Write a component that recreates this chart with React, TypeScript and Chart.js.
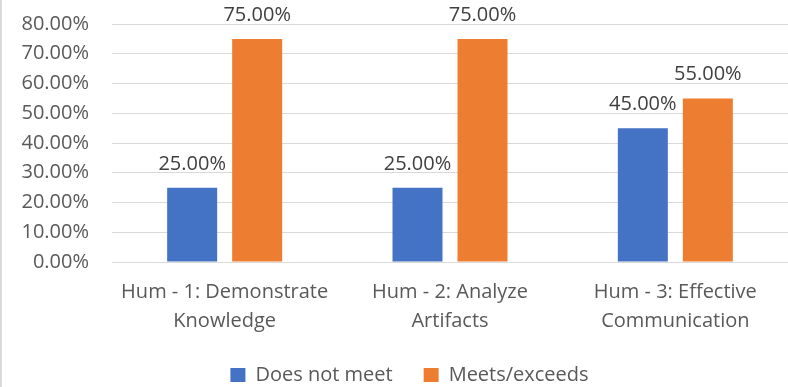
import React, { useEffect, useRef } from "react";
import { Chart, registerables } from "chart.js";

Chart.register(...registerables);

const categories: string[][] = [
  ["Hum - 1: Demonstrate", "Knowledge"],
  ["Hum - 2: Analyze", "Artifacts"],
  ["Hum - 3: Effective", "Communication"],
];
const doesNotMeet: number[] = [25, 25, 45];
const meetsExceeds: number[] = [75, 75, 55];
const seriesNames: string[] = ["Does not meet", "Meets/exceeds"];
const yTicks: number[] = [0, 10, 20, 30, 40, 50, 60, 70, 80];

const FONT = '"Open Sans", "DejaVu Sans", sans-serif';

const dataLabelPlugin = {
  id: "dataLabels",
  afterDatasetsDraw(chart: any) {
    const ctx = chart.ctx;
    ctx.save();
    ctx.font = `20px ${FONT}`;
    ctx.fillStyle = "#404040";
    ctx.textAlign = "center";
    ctx.textBaseline = "alphabetic";
    chart.data.datasets.forEach((ds: any, i: number) => {
      const meta = chart.getDatasetMeta(i);
      meta.data.forEach((el: any, j: number) => {
        const v = ds.data[j] as number;
        ctx.fillText(`${v.toFixed(2)}%`, el.x, el.y - 18);
      });
    });
    ctx.restore();
  },
};

// nudge the legend box so it sits where the reference draws it
const legendPlacePlugin = {
  id: "legendPlace",
  afterLayout(chart: any) {
    const lg = chart.legend;
    if (!lg) return;
    const h = lg.bottom - lg.top;
    lg.top = 334;
    lg.bottom = 334 + h;
    lg.left = 31;
  },
};

export default function App() {
  const ref = useRef<HTMLCanvasElement | null>(null);

  useEffect(() => {
    document.body.style.margin = "0";
    if (!ref.current) return;
    Chart.defaults.font.family = FONT;
    const chart = new Chart(ref.current, {
      type: "bar",
      data: {
        labels: categories,
        datasets: [
          {
            label: seriesNames[0],
            data: doesNotMeet,
            backgroundColor: "#4472C4",
            categoryPercentage: 0.577,
            barPercentage: 0.769,
          },
          {
            label: seriesNames[1],
            data: meetsExceeds,
            backgroundColor: "#ED7D31",
            categoryPercentage: 0.577,
            barPercentage: 0.769,
          },
        ],
      },
      options: {
        responsive: false,
        animation: false,
        devicePixelRatio: 1,
        layout: { padding: { top: 24, left: 0, right: 0, bottom: -16 } },
        plugins: {
          legend: {
            position: "bottom",
            labels: {
              boxWidth: 15,
              boxHeight: 14,
              padding: 31,
              color: "#595959",
              font: { size: 20, family: FONT },
            },
          },
          tooltip: { enabled: false },
        },
        scales: {
          x: {
            grid: { display: false },
            border: { display: false },
            ticks: {
              color: "#595959",
              font: { size: 20, family: FONT, lineHeight: 1.45 },
              padding: 8,
              maxRotation: 0,
              autoSkip: false,
            },
            afterFit: (scale: any) => {
              scale.height = 80;
            },
          },
          y: {
            min: 0,
            max: 80,
            afterBuildTicks: (scale: any) => {
              scale.ticks = yTicks.map((v) => ({ value: v }));
            },
            grid: { color: "#d9d9d9", lineWidth: 1, drawTicks: false },
            border: { display: false },
            ticks: {
              color: "#595959",
              font: { size: 20, family: FONT },
              padding: 23,
              callback: (v: any) => `${Number(v).toFixed(2)}%`,
            },
            afterFit: (scale: any) => {
              scale.width = 112;
              scale.paddingTop = 0;
              scale.paddingBottom = 0;
            },
          },
        },
      },
      plugins: [dataLabelPlugin, legendPlacePlugin],
    } as any);
    return () => chart.destroy();
  }, []);

  return (
    <div style={{ position: "fixed", left: 0, top: 0, width: 788, height: 387, background: "#fff" }}>
      <canvas ref={ref} width={788} height={387} style={{ display: "block" }} />
      <div
        style={{
          position: "absolute",
          left: 0,
          top: 0,
          width: 2,
          height: 387,
          background: "#d9d9d9",
        }}
      />
    </div>
  );
}
